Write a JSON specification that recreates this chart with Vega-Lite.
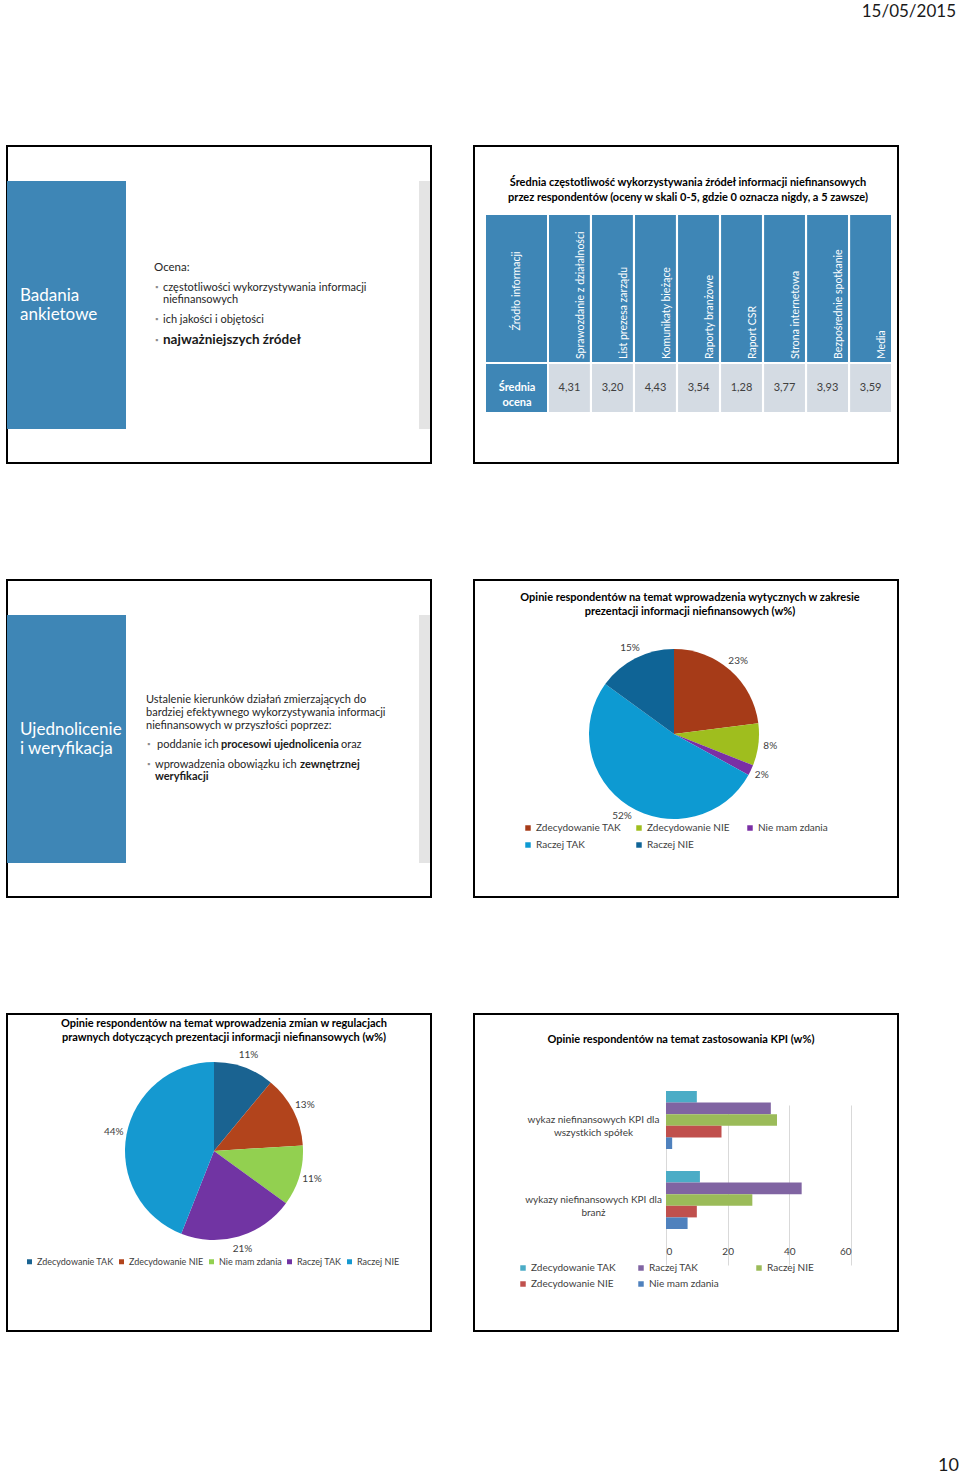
{
  "$schema": "https://vega.github.io/schema/vega-lite/v6.json",
  "background": "white",
  "padding": {"left": 6, "top": 3, "right": 0, "bottom": 0},
  "title": {"text": "15/05/2015", "anchor": "end", "fontSize": 17, "fontWeight": "normal", "color": "#1a1a1a", "offset": 124, "dx": -3},
  "config": {
    "font": "Lato",
    "view": {"stroke": "#000000", "strokeWidth": 2},
    "locale": {"number": {"decimal": ",", "thousands": " ", "grouping": [3], "currency": ["", " zł"]}},
    "axis": {"labelColor": "#404040"},
    "legend": {"labelColor": "#404040"}
  },
  "datasets": {
    "intro": [{"heading1": "Badania", "heading2": "ankietowe", "lead": "Ocena:", "p1": "częstotliwości wykorzystywania informacji", "p1b": "niefinansowych", "p2": "ich jakości i objętości", "p3": "najważniejszych źródeł", "bullet": "▪"}],
    "unify": [{"heading1": "Ujednolicenie", "heading2": "i weryfikacja", "l1": "Ustalenie kierunków działań zmierzających do", "l2": "bardziej efektywnego wykorzystywania informacji", "l3": "niefinansowych w przyszłości poprzez:", "b1a": "poddanie ich", "b1b": "procesowi ujednolicenia", "b1c": "oraz", "b2a": "wprowadzenia obowiązku ich", "b2b": "zewnętrznej", "b2c": "weryfikacji", "bullet": "▪"}],
    "sources": [
      {"source": "Sprawozdanie z działalności", "score": 4.31},
      {"source": "List prezesa zarządu", "score": 3.20},
      {"source": "Komunikaty bieżące", "score": 4.43},
      {"source": "Raporty branżowe", "score": 3.54},
      {"source": "Raport CSR", "score": 1.28},
      {"source": "Strona internetowa", "score": 3.77},
      {"source": "Bezpośrednie spotkanie", "score": 3.93},
      {"source": "Media", "score": 3.59}
    ],
    "tableLabels": [{"header": "Źródło informacji", "row": "Średnia ocena"}],
    "guidelines": [
      {"answer": "Zdecydowanie TAK", "share": 0.23, "n": 1},
      {"answer": "Zdecydowanie NIE", "share": 0.08, "n": 2},
      {"answer": "Nie mam zdania", "share": 0.02, "n": 3},
      {"answer": "Raczej TAK", "share": 0.52, "n": 4},
      {"answer": "Raczej NIE", "share": 0.15, "n": 5}
    ],
    "regulations": [
      {"answer": "Zdecydowanie TAK", "share": 0.11, "n": 1},
      {"answer": "Zdecydowanie NIE", "share": 0.13, "n": 2},
      {"answer": "Nie mam zdania", "share": 0.11, "n": 3},
      {"answer": "Raczej TAK", "share": 0.21, "n": 4},
      {"answer": "Raczej NIE", "share": 0.44, "n": 5}
    ],
    "kpi": [
      {"category": "wykaz niefinansowych KPI dla wszystkich spółek", "answer": "Zdecydowanie TAK", "value": 10},
      {"category": "wykaz niefinansowych KPI dla wszystkich spółek", "answer": "Raczej TAK", "value": 34},
      {"category": "wykaz niefinansowych KPI dla wszystkich spółek", "answer": "Raczej NIE", "value": 36},
      {"category": "wykaz niefinansowych KPI dla wszystkich spółek", "answer": "Zdecydowanie NIE", "value": 18},
      {"category": "wykaz niefinansowych KPI dla wszystkich spółek", "answer": "Nie mam zdania", "value": 2},
      {"category": "wykazy niefinansowych KPI dla branż", "answer": "Zdecydowanie TAK", "value": 11},
      {"category": "wykazy niefinansowych KPI dla branż", "answer": "Raczej TAK", "value": 44},
      {"category": "wykazy niefinansowych KPI dla branż", "answer": "Raczej NIE", "value": 28},
      {"category": "wykazy niefinansowych KPI dla branż", "answer": "Zdecydowanie NIE", "value": 10},
      {"category": "wykazy niefinansowych KPI dla branż", "answer": "Nie mam zdania", "value": 7}
    ],
    "page": [{"page": "10"}]
  },
  "spacing": 115,
  "resolve": {"scale": {"color": "independent", "theta": "independent", "x": "independent", "y": "independent"}, "legend": {"color": "independent"}},
  "vconcat": [
    {
      "spacing": 41,
      "resolve": {"scale": {"color": "independent", "theta": "independent", "x": "independent", "y": "independent"}, "legend": {"color": "independent"}},
      "hconcat": [
        {
          "width": 424, "height": 317,
          "data": {"name": "intro"},
          "layer": [
            {"mark": {"type": "point", "opacity": 0, "size": 0}, "encoding": {"x": {"datum": 0.5, "type": "quantitative", "scale": {"domain": [0, 1]}, "axis": null}, "y": {"datum": 0.5, "type": "quantitative", "scale": {"domain": [0, 1]}, "axis": null}}},
            {"mark": {"type": "rect", "x": 0, "x2": 119, "y": 35, "y2": 283, "color": "#3e86b6"}},
            {"mark": {"type": "rect", "x": 412, "x2": 423, "y": 35, "y2": 283, "color": "#e4e4e4"}},
            {"mark": {"type": "text", "x": 13, "y": 155, "align": "left", "baseline": "alphabetic", "fontSize": 17, "color": "#ffffff"}, "encoding": {"text": {"field": "heading1"}}},
            {"mark": {"type": "text", "x": 13, "y": 174, "align": "left", "baseline": "alphabetic", "fontSize": 17, "color": "#ffffff"}, "encoding": {"text": {"field": "heading2"}}},
            {"mark": {"type": "text", "x": 147, "y": 125, "align": "left", "baseline": "alphabetic", "fontSize": 11.5, "color": "#262626"}, "encoding": {"text": {"field": "lead"}}},
            {"mark": {"type": "text", "x": 148, "y": 144, "align": "left", "baseline": "alphabetic", "fontSize": 8, "color": "#8c8c8c"}, "encoding": {"text": {"field": "bullet"}}},
            {"mark": {"type": "text", "x": 148, "y": 176, "align": "left", "baseline": "alphabetic", "fontSize": 8, "color": "#8c8c8c"}, "encoding": {"text": {"field": "bullet"}}},
            {"mark": {"type": "text", "x": 148, "y": 197, "align": "left", "baseline": "alphabetic", "fontSize": 8, "color": "#8c8c8c"}, "encoding": {"text": {"field": "bullet"}}},
            {"mark": {"type": "text", "x": 156, "y": 145, "align": "left", "baseline": "alphabetic", "fontSize": 11, "color": "#262626"}, "encoding": {"text": {"field": "p1"}}},
            {"mark": {"type": "text", "x": 156, "y": 157, "align": "left", "baseline": "alphabetic", "fontSize": 11, "color": "#262626"}, "encoding": {"text": {"field": "p1b"}}},
            {"mark": {"type": "text", "x": 156, "y": 177, "align": "left", "baseline": "alphabetic", "fontSize": 11, "color": "#262626"}, "encoding": {"text": {"field": "p2"}}},
            {"mark": {"type": "text", "x": 156, "y": 198, "align": "left", "baseline": "alphabetic", "fontSize": 13.5, "fontWeight": "bold", "color": "#1a1a1a"}, "encoding": {"text": {"field": "p3"}}}
          ]
        },
        {
          "width": 424, "height": 317,
          "title": {"text": ["Średnia częstotliwość wykorzystywania źródeł informacji niefinansowych", "przez respondentów (oceny w skali 0-5, gdzie 0 oznacza nigdy, a 5 zawsze)"], "fontSize": 11, "fontWeight": "bold", "lineHeight": 15, "color": "#000000", "anchor": "middle", "frame": "group", "offset": -57, "dx": 2},
          "layer": [
            {
              "data": {"name": "sources"},
              "layer": [
                {"mark": {"type": "rect", "y": 69, "y2": 216, "color": "#3e86b6"}, "encoding": {"x": {"field": "source", "type": "nominal", "sort": null, "scale": {"range": [75, 417], "paddingInner": 0.05, "paddingOuter": 0}, "axis": null}}},
                {"mark": {"type": "rect", "y": 218, "y2": 266, "color": "#d4dbe3"}, "encoding": {"x": {"field": "source", "type": "nominal", "sort": null, "scale": {"range": [75, 417], "paddingInner": 0.05, "paddingOuter": 0}, "axis": null}}},
                {"mark": {"type": "text", "angle": 270, "align": "left", "baseline": "middle", "y": 213, "fontSize": 10.5, "color": "#ffffff"}, "encoding": {"x": {"field": "source", "type": "nominal", "sort": null, "bandPosition": 0.78, "scale": {"range": [75, 417], "paddingInner": 0.05, "paddingOuter": 0}, "axis": null}, "text": {"field": "source"}}},
                {"mark": {"type": "text", "align": "center", "baseline": "middle", "y": 242, "fontSize": 11, "color": "#404040"}, "encoding": {"x": {"field": "source", "type": "nominal", "sort": null, "scale": {"range": [75, 417], "paddingInner": 0.05, "paddingOuter": 0}, "axis": null}, "text": {"field": "score", "type": "quantitative", "format": ".2f"}}}
              ]
            },
            {
              "data": {"name": "tableLabels"},
              "layer": [
                {"mark": {"type": "rect", "x": 12, "x2": 73, "y": 69, "y2": 216, "color": "#3e86b6"}},
                {"mark": {"type": "rect", "x": 12, "x2": 73, "y": 218, "y2": 266, "color": "#3e86b6"}},
                {"mark": {"type": "text", "x": 43, "y": 145, "angle": 270, "align": "center", "baseline": "middle", "fontSize": 10.5, "color": "#ffffff"}, "encoding": {"text": {"field": "header"}}},
                {"mark": {"type": "text", "x": 43, "y": 242, "align": "center", "baseline": "middle", "lineBreak": " ", "lineHeight": 15, "fontSize": 11, "fontWeight": "bold", "color": "#ffffff"}, "encoding": {"text": {"field": "row"}}}
              ]
            }
          ]
        }
      ]
    },
    {
      "spacing": 41,
      "resolve": {"scale": {"color": "independent", "theta": "independent", "x": "independent", "y": "independent"}, "legend": {"color": "independent"}},
      "hconcat": [
        {
          "width": 424, "height": 317,
          "data": {"name": "unify"},
          "layer": [
            {"mark": {"type": "point", "opacity": 0, "size": 0}, "encoding": {"x": {"datum": 0.5, "type": "quantitative", "scale": {"domain": [0, 1]}, "axis": null}, "y": {"datum": 0.5, "type": "quantitative", "scale": {"domain": [0, 1]}, "axis": null}}},
            {"mark": {"type": "rect", "x": 0, "x2": 119, "y": 35, "y2": 283, "color": "#3e86b6"}},
            {"mark": {"type": "rect", "x": 412, "x2": 423, "y": 35, "y2": 283, "color": "#e4e4e4"}},
            {"mark": {"type": "text", "x": 13, "y": 155, "align": "left", "baseline": "alphabetic", "fontSize": 17, "color": "#ffffff"}, "encoding": {"text": {"field": "heading1"}}},
            {"mark": {"type": "text", "x": 13, "y": 174, "align": "left", "baseline": "alphabetic", "fontSize": 17, "color": "#ffffff"}, "encoding": {"text": {"field": "heading2"}}},
            {"mark": {"type": "text", "x": 139, "y": 123, "align": "left", "baseline": "alphabetic", "fontSize": 11, "color": "#262626"}, "encoding": {"text": {"field": "l1"}}},
            {"mark": {"type": "text", "x": 139, "y": 136, "align": "left", "baseline": "alphabetic", "fontSize": 11, "color": "#262626"}, "encoding": {"text": {"field": "l2"}}},
            {"mark": {"type": "text", "x": 139, "y": 149, "align": "left", "baseline": "alphabetic", "fontSize": 11, "color": "#262626"}, "encoding": {"text": {"field": "l3"}}},
            {"mark": {"type": "text", "x": 140, "y": 167, "align": "left", "baseline": "alphabetic", "fontSize": 8, "color": "#8c8c8c"}, "encoding": {"text": {"field": "bullet"}}},
            {"mark": {"type": "text", "x": 150, "y": 168, "align": "left", "baseline": "alphabetic", "fontSize": 11, "color": "#262626"}, "encoding": {"text": {"field": "b1a"}}},
            {"mark": {"type": "text", "x": 214, "y": 168, "align": "left", "baseline": "alphabetic", "fontSize": 11, "fontWeight": "bold", "color": "#1a1a1a"}, "encoding": {"text": {"field": "b1b"}}},
            {"mark": {"type": "text", "x": 334, "y": 168, "align": "left", "baseline": "alphabetic", "fontSize": 11, "color": "#262626"}, "encoding": {"text": {"field": "b1c"}}},
            {"mark": {"type": "text", "x": 140, "y": 187, "align": "left", "baseline": "alphabetic", "fontSize": 8, "color": "#8c8c8c"}, "encoding": {"text": {"field": "bullet"}}},
            {"mark": {"type": "text", "x": 148, "y": 188, "align": "left", "baseline": "alphabetic", "fontSize": 11, "color": "#262626"}, "encoding": {"text": {"field": "b2a"}}},
            {"mark": {"type": "text", "x": 293, "y": 188, "align": "left", "baseline": "alphabetic", "fontSize": 11, "fontWeight": "bold", "color": "#1a1a1a"}, "encoding": {"text": {"field": "b2b"}}},
            {"mark": {"type": "text", "x": 148, "y": 200, "align": "left", "baseline": "alphabetic", "fontSize": 11, "fontWeight": "bold", "color": "#1a1a1a"}, "encoding": {"text": {"field": "b2c"}}}
          ]
        },
        {
          "width": 424, "height": 317,
          "title": {"text": ["Opinie respondentów na temat wprowadzenia wytycznych w zakresie", "prezentacji informacji niefinansowych  (w%)"], "fontSize": 11, "fontWeight": "bold", "lineHeight": 14, "color": "#000000", "anchor": "middle", "frame": "group", "offset": -37, "dx": 4},
          "data": {"name": "guidelines"},
          "layer": [
            {"mark": {"type": "point", "opacity": 0, "size": 0}, "encoding": {"x": {"datum": 0.5, "type": "quantitative", "scale": {"domain": [0, 1]}, "axis": null}, "y": {"datum": 0.5, "type": "quantitative", "scale": {"domain": [0, 1]}, "axis": null}}},
            {"mark": {"type": "arc", "outerRadius": 85, "x": 200, "y": 154},
             "encoding": {
               "theta": {"field": "share", "type": "quantitative", "stack": true},
               "order": {"field": "n", "type": "quantitative"},
               "color": {"field": "answer", "type": "nominal", "sort": null,
               "scale": {"domain": ["Zdecydowanie TAK", "Zdecydowanie NIE", "Nie mam zdania", "Raczej TAK", "Raczej NIE"], "range": ["#a63b18", "#9fbe1e", "#7a2fa5", "#0d9ad2", "#0f6496"]},
               "legend": {"title": null, "orient": "none", "legendX": 49, "legendY": 243, "direction": "horizontal", "columns": 3, "gridAlign": "all", "columnPadding": 13, "rowPadding": 7, "symbolType": "square", "symbolSize": 30, "symbolStrokeWidth": 0, "labelFontSize": 10, "labelOffset": 3, "padding": 0}}}},
            {"mark": {"type": "text", "radius": 97, "x": 200, "y": 154, "fontSize": 10, "color": "#404040", "align": "center", "baseline": "middle"},
             "encoding": {
               "theta": {"field": "share", "type": "quantitative", "stack": true},
               "order": {"field": "n", "type": "quantitative"},
               "text": {"field": "share", "type": "quantitative", "format": ".0%"}}}
          ]
        }
      ]
    },
    {
      "spacing": 41,
      "resolve": {"scale": {"color": "independent", "theta": "independent", "x": "independent", "y": "independent"}, "legend": {"color": "independent"}},
      "hconcat": [
        {
          "width": 424, "height": 317,
          "title": {"text": ["Opinie respondentów na temat wprowadzenia zmian w regulacjach", "prawnych dotyczących prezentacji informacji niefinansowych  (w%)"], "fontSize": 11, "fontWeight": "bold", "lineHeight": 14, "color": "#000000", "anchor": "middle", "frame": "group", "offset": -29, "dx": 5},
          "data": {"name": "regulations"},
          "layer": [
            {"mark": {"type": "point", "opacity": 0, "size": 0}, "encoding": {"x": {"datum": 0.5, "type": "quantitative", "scale": {"domain": [0, 1]}, "axis": null}, "y": {"datum": 0.5, "type": "quantitative", "scale": {"domain": [0, 1]}, "axis": null}}},
            {"mark": {"type": "arc", "outerRadius": 89, "x": 207, "y": 137},
             "encoding": {
               "theta": {"field": "share", "type": "quantitative", "stack": true},
               "order": {"field": "n", "type": "quantitative"},
               "color": {"field": "answer", "type": "nominal", "sort": null,
               "scale": {"domain": ["Zdecydowanie TAK", "Zdecydowanie NIE", "Nie mam zdania", "Raczej TAK", "Raczej NIE"], "range": ["#1a6391", "#b2441c", "#92d050", "#7134a3", "#1599d0"]},
               "legend": {"title": null, "orient": "none", "legendX": 18, "legendY": 243, "direction": "horizontal", "columns": 5, "columnPadding": 3, "symbolType": "square", "symbolSize": 25, "symbolStrokeWidth": 0, "labelFontSize": 9, "labelOffset": 3, "padding": 0}}}},
            {"mark": {"type": "text", "radius": 102, "x": 207, "y": 137, "fontSize": 10, "color": "#404040", "align": "center", "baseline": "middle"},
             "encoding": {
               "theta": {"field": "share", "type": "quantitative", "stack": true},
               "order": {"field": "n", "type": "quantitative"},
               "text": {"field": "share", "type": "quantitative", "format": ".0%"}}}
          ]
        },
        {
          "width": 424, "height": 317,
          "title": {"text": "Opinie respondentów na temat zastosowania KPI  (w%)", "fontSize": 11, "fontWeight": "bold", "color": "#000000", "anchor": "middle", "frame": "group", "offset": -31, "dx": -5},
          "data": {"name": "kpi"},
          "mark": {"type": "bar"},
          "encoding": {
            "y": {"field": "category", "type": "nominal", "sort": null,
              "scale": {"range": [66, 226], "paddingInner": 0.275, "paddingOuter": 0.1375},
              "axis": {"title": null, "offset": -192, "labelAlign": "center", "labelBaseline": "middle", "labelPadding": 73, "labelLimit": 0, "ticks": false, "domain": false, "grid": false, "labelFontSize": 10, "labelLineHeight": 13,
                "labelExpr": "datum.label == 'wykaz niefinansowych KPI dla wszystkich spółek' ? ['wykaz niefinansowych KPI dla', 'wszystkich spółek'] : ['wykazy niefinansowych KPI dla', 'branż']"}},
            "x": {"field": "value", "type": "quantitative",
              "scale": {"domain": [0, 60], "range": [192, 377], "nice": false},
              "axis": {"title": null, "offset": -91, "values": [0, 20, 40, 60], "grid": true, "gridColor": "#d9d9d9", "domain": false, "ticks": false, "labelFontSize": 10, "labelPadding": 6}},
            "yOffset": {"field": "answer", "type": "nominal", "sort": ["Zdecydowanie TAK", "Raczej TAK", "Raczej NIE", "Zdecydowanie NIE", "Nie mam zdania"]},
            "color": {"field": "answer", "type": "nominal", "sort": null,
              "scale": {"domain": ["Zdecydowanie TAK", "Raczej TAK", "Raczej NIE", "Zdecydowanie NIE", "Nie mam zdania"], "range": ["#4bacc6", "#8064a2", "#9bbb59", "#c0504d", "#4f81bd"]},
              "legend": {"title": null, "orient": "none", "legendX": 44, "legendY": 249, "direction": "horizontal", "columns": 3, "gridAlign": "all", "columnPadding": 20, "rowPadding": 6, "symbolType": "square", "symbolSize": 30, "symbolStrokeWidth": 0, "labelFontSize": 10, "labelOffset": 3, "padding": 0}}
          }
        }
      ]
    },
    {
      "width": 952, "height": 27,
      "view": {"stroke": null},
      "data": {"name": "page"},
      "mark": {"type": "text", "x": "width", "y": 24, "align": "right", "baseline": "alphabetic", "fontSize": 18, "color": "#1a1a1a"},
      "encoding": {"text": {"field": "page"}}
    }
  ]
}
